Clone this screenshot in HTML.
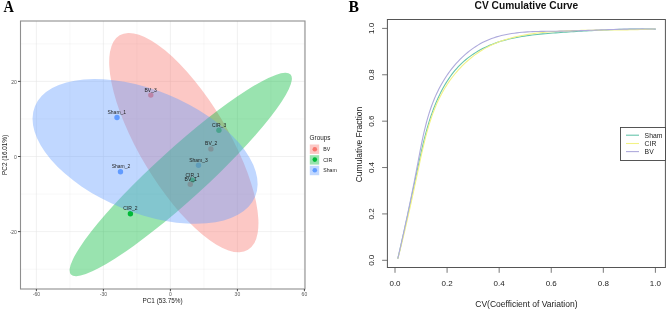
<!DOCTYPE html>
<html><head><meta charset="utf-8"><style>
html,body{margin:0;padding:0;background:#fff;}
svg{display:block;will-change:transform;}
text{font-family:"Liberation Sans",sans-serif;}
.serif{font-family:"Liberation Serif",serif;font-weight:bold;}
</style></head><body>
<svg width="667" height="310" viewBox="0 0 667 310">
<rect width="667" height="310" fill="#fff"/>
<text class="serif" x="3.5" y="12.25" font-size="16" fill="#000" textLength="10.4" lengthAdjust="spacingAndGlyphs">A</text>
<text class="serif" x="348.5" y="12.2" font-size="15.7" fill="#000">B</text>
<defs><clipPath id="pc"><rect x="20.5" y="21.0" width="284.5" height="268.0"/></clipPath></defs>
<g><line x1="36.40" y1="21.0" x2="36.40" y2="289.0" stroke="#E6E6E6" stroke-width="0.55"/><line x1="69.90" y1="21.0" x2="69.90" y2="289.0" stroke="#E6E6E6" stroke-width="0.3"/><line x1="103.40" y1="21.0" x2="103.40" y2="289.0" stroke="#E6E6E6" stroke-width="0.55"/><line x1="136.90" y1="21.0" x2="136.90" y2="289.0" stroke="#E6E6E6" stroke-width="0.3"/><line x1="170.40" y1="21.0" x2="170.40" y2="289.0" stroke="#E6E6E6" stroke-width="0.55"/><line x1="203.90" y1="21.0" x2="203.90" y2="289.0" stroke="#E6E6E6" stroke-width="0.3"/><line x1="237.40" y1="21.0" x2="237.40" y2="289.0" stroke="#E6E6E6" stroke-width="0.55"/><line x1="270.90" y1="21.0" x2="270.90" y2="289.0" stroke="#E6E6E6" stroke-width="0.3"/><line x1="304.40" y1="21.0" x2="304.40" y2="289.0" stroke="#E6E6E6" stroke-width="0.55"/><line x1="20.5" y1="269.15" x2="305.0" y2="269.15" stroke="#E6E6E6" stroke-width="0.3"/><line x1="20.5" y1="231.60" x2="305.0" y2="231.60" stroke="#E6E6E6" stroke-width="0.55"/><line x1="20.5" y1="194.05" x2="305.0" y2="194.05" stroke="#E6E6E6" stroke-width="0.3"/><line x1="20.5" y1="156.50" x2="305.0" y2="156.50" stroke="#E6E6E6" stroke-width="0.55"/><line x1="20.5" y1="118.95" x2="305.0" y2="118.95" stroke="#E6E6E6" stroke-width="0.3"/><line x1="20.5" y1="81.40" x2="305.0" y2="81.40" stroke="#E6E6E6" stroke-width="0.55"/><line x1="20.5" y1="43.85" x2="305.0" y2="43.85" stroke="#E6E6E6" stroke-width="0.3"/></g>
<g clip-path="url(#pc)">
<circle cx="150.8" cy="95.1" r="2.7" fill="#F8766D"/><circle cx="117.0" cy="117.5" r="2.7" fill="#619CFF"/><circle cx="218.9" cy="130.3" r="2.7" fill="#00BA38"/><circle cx="210.9" cy="148.9" r="2.7" fill="#F8766D"/><circle cx="198.5" cy="165.3" r="2.7" fill="#619CFF"/><circle cx="192.5" cy="180.1" r="2.7" fill="#00BA38"/><circle cx="190.3" cy="184.2" r="2.7" fill="#F8766D"/><circle cx="120.5" cy="171.8" r="2.7" fill="#619CFF"/><circle cx="130.4" cy="213.7" r="2.7" fill="#00BA38"/>
<ellipse cx="183.81" cy="142.57" rx="125.01" ry="44.35" transform="rotate(59.10 183.81 142.57)" fill="#F8766D" fill-opacity="0.4"/>
<ellipse cx="180.75" cy="174.46" rx="148.52" ry="25.42" transform="rotate(-42.31 180.75 174.46)" fill="#00BA38" fill-opacity="0.4"/>
<ellipse cx="145.08" cy="151.41" rx="119.01" ry="61.15" transform="rotate(22.31 145.08 151.41)" fill="#619CFF" fill-opacity="0.4"/>
</g>
<g font-size="5.0" fill="#222"><text x="150.6" y="91.6" text-anchor="middle">BV_3</text><text x="116.8" y="114.1" text-anchor="middle">Sham_1</text><text x="219.1" y="127.3" text-anchor="middle">CIR_3</text><text x="211.2" y="145.0" text-anchor="middle">BV_2</text><text x="198.5" y="162.4" text-anchor="middle">Sham_3</text><text x="192.5" y="176.6" text-anchor="middle">CIR_1</text><text x="190.7" y="180.5" text-anchor="middle">BV_1</text><text x="121.0" y="168.0" text-anchor="middle">Sham_2</text><text x="130.4" y="209.9" text-anchor="middle">CIR_2</text></g>
<rect x="20.5" y="21.0" width="284.5" height="268.0" fill="none" stroke="#8f8f8f" stroke-width="1.1"/>
<g font-size="5.0" fill="#555"><line x1="36.40" y1="289.0" x2="36.40" y2="291.2" stroke="#333" stroke-width="0.9"/><text x="36.40" y="295.5" text-anchor="middle">-60</text><line x1="103.40" y1="289.0" x2="103.40" y2="291.2" stroke="#333" stroke-width="0.9"/><text x="103.40" y="295.5" text-anchor="middle">-30</text><line x1="170.40" y1="289.0" x2="170.40" y2="291.2" stroke="#333" stroke-width="0.9"/><text x="170.40" y="295.5" text-anchor="middle">0</text><line x1="237.40" y1="289.0" x2="237.40" y2="291.2" stroke="#333" stroke-width="0.9"/><text x="237.40" y="295.5" text-anchor="middle">30</text><line x1="304.40" y1="289.0" x2="304.40" y2="291.2" stroke="#333" stroke-width="0.9"/><text x="304.40" y="295.5" text-anchor="middle">60</text><line x1="18.0" y1="231.60" x2="20.5" y2="231.60" stroke="#333" stroke-width="0.9"/><text x="16.9" y="233.70" text-anchor="end">-20</text><line x1="18.0" y1="156.50" x2="20.5" y2="156.50" stroke="#333" stroke-width="0.9"/><text x="16.9" y="158.60" text-anchor="end">0</text><line x1="18.0" y1="81.40" x2="20.5" y2="81.40" stroke="#333" stroke-width="0.9"/><text x="16.9" y="83.50" text-anchor="end">20</text></g>
<text x="162.5" y="303.2" text-anchor="middle" font-size="6.4" fill="#222">PC1 (53.75%)</text>
<text x="0" y="0" text-anchor="middle" font-size="6.4" fill="#222" transform="translate(7.3 154.9) rotate(-90)">PC2 (16.01%)</text>
<!-- legend A -->
<text x="309.6" y="140.0" font-size="6.4" fill="#222">Groups</text>
<rect x="309.8" y="144.5" width="9.4" height="9.4" fill="#F8766D" fill-opacity="0.4"/>
<rect x="309.8" y="155.2" width="9.4" height="9.4" fill="#00BA38" fill-opacity="0.4"/>
<rect x="309.8" y="165.8" width="9.4" height="9.4" fill="#619CFF" fill-opacity="0.4"/>
<circle cx="314.8" cy="149.3" r="2.3" fill="#F8766D"/>
<circle cx="314.8" cy="159.6" r="2.3" fill="#00BA38"/>
<circle cx="314.8" cy="170.3" r="2.3" fill="#619CFF"/>
<g font-size="5.2" fill="#222">
<text x="323.2" y="151.2">BV</text>
<text x="323.2" y="161.7">CIR</text>
<text x="323.2" y="172.3">Sham</text>
</g>
<!-- panel B -->
<text x="526.4" y="9.2" text-anchor="middle" font-size="10.2" font-weight="bold" fill="#111">CV Cumulative Curve</text>
<polyline points="397.79,258.70 398.39,256.15 398.99,253.61 399.59,251.07 400.17,248.54 400.76,246.01 401.34,243.48 401.91,240.96 402.49,238.44 403.05,235.92 403.62,233.41 404.18,230.90 404.74,228.39 405.29,225.88 405.84,223.38 406.39,220.88 406.94,218.38 407.49,215.88 408.03,213.38 408.57,210.88 409.11,208.38 409.65,205.89 410.18,203.39 410.72,200.89 411.25,198.39 411.79,195.90 412.32,193.40 412.86,190.89 413.39,188.39 413.92,185.89 414.46,183.38 414.99,180.88 415.53,178.37 416.07,175.85 416.60,173.34 417.14,170.82 417.68,168.30 418.23,165.77 418.77,163.24 419.32,160.71 419.87,158.18 420.43,155.64 420.99,153.11 421.56,150.57 422.14,148.03 422.74,145.50 423.34,142.97 423.96,140.44 424.59,137.92 425.24,135.40 425.90,132.88 426.59,130.38 427.29,127.88 428.01,125.39 428.76,122.91 429.53,120.43 430.32,117.97 431.14,115.52 431.99,113.08 432.87,110.66 433.77,108.25 434.71,105.85 435.68,103.47 436.68,101.11 437.72,98.76 438.79,96.43 439.91,94.12 441.06,91.83 442.25,89.56 443.48,87.31 444.76,85.09 446.07,82.89 447.44,80.73 448.85,78.59 450.30,76.50 451.81,74.44 453.36,72.43 454.97,70.46 456.62,68.54 458.33,66.67 460.10,64.85 461.91,63.09 463.79,61.39 465.71,59.74 467.68,58.15 469.69,56.61 471.75,55.14 473.85,53.72 475.99,52.35 478.17,51.05 480.39,49.80 482.63,48.60 484.91,47.47 487.22,46.39 489.55,45.37 491.91,44.41 494.30,43.50 496.71,42.64 499.13,41.83 501.58,41.07 504.05,40.36 506.54,39.69 509.05,39.06 511.57,38.48 514.10,37.93 516.65,37.42 519.21,36.95 521.78,36.50 524.37,36.09 526.96,35.71 529.55,35.35 532.16,35.02 534.77,34.72 537.38,34.43 540.00,34.16 542.61,33.91 545.23,33.68 547.85,33.46 550.46,33.25 553.07,33.06 555.68,32.87 558.28,32.68 560.88,32.50 563.46,32.32 566.04,32.15 568.61,31.98 571.18,31.81 573.74,31.64 576.29,31.48 578.84,31.32 581.39,31.17 583.93,31.02 586.47,30.87 589.01,30.73 591.54,30.59 594.08,30.45 596.61,30.33 599.14,30.20 601.67,30.08 604.20,29.97 606.73,29.86 609.27,29.76 611.80,29.66 614.34,29.57 616.88,29.49 619.43,29.41 621.98,29.34 624.53,29.27 627.09,29.22 629.65,29.16 632.22,29.12 634.80,29.08 637.39,29.06 639.98,29.03 642.58,29.02 645.19,29.02 647.80,29.02 650.43,29.03 653.07,29.05 655.72,29.08" fill="none" stroke="#66C4AB" stroke-width="1.1"/>
<polyline points="397.86,258.69 398.52,256.16 399.16,253.64 399.80,251.12 400.43,248.61 401.05,246.10 401.67,243.60 402.28,241.10 402.88,238.60 403.48,236.10 404.07,233.61 404.66,231.12 405.24,228.63 405.82,226.14 406.40,223.66 406.96,221.17 407.53,218.69 408.09,216.20 408.65,213.72 409.20,211.24 409.76,208.76 410.31,206.28 410.85,203.79 411.40,201.31 411.94,198.82 412.48,196.34 413.02,193.85 413.56,191.36 414.09,188.87 414.63,186.37 415.17,183.88 415.70,181.38 416.24,178.88 416.78,176.37 417.31,173.86 417.85,171.35 418.39,168.83 418.93,166.31 419.47,163.78 420.02,161.25 420.57,158.71 421.12,156.18 421.68,153.64 422.25,151.10 422.83,148.57 423.42,146.03 424.03,143.50 424.65,140.97 425.28,138.45 425.93,135.93 426.60,133.42 427.29,130.91 428.00,128.42 428.73,125.93 429.49,123.46 430.27,120.99 431.08,118.54 431.92,116.11 432.79,113.68 433.69,111.28 434.62,108.89 435.59,106.52 436.59,104.16 437.63,101.83 438.71,99.51 439.83,97.22 441.00,94.95 442.20,92.71 443.45,90.49 444.74,88.29 446.09,86.12 447.47,83.98 448.90,81.87 450.38,79.79 451.89,77.74 453.45,75.73 455.06,73.75 456.70,71.80 458.38,69.90 460.11,68.03 461.87,66.20 463.68,64.41 465.52,62.67 467.40,60.97 469.32,59.32 471.27,57.71 473.26,56.15 475.29,54.64 477.35,53.18 479.44,51.77 481.57,50.42 483.74,49.12 485.93,47.87 488.16,46.69 490.41,45.56 492.70,44.49 495.02,43.47 497.36,42.50 499.73,41.59 502.12,40.73 504.54,39.92 506.98,39.15 509.44,38.43 511.92,37.75 514.41,37.12 516.93,36.52 519.46,35.97 522.00,35.45 524.56,34.97 527.13,34.52 529.71,34.11 532.30,33.73 534.89,33.37 537.50,33.05 540.10,32.75 542.72,32.48 545.33,32.23 547.95,32.00 550.56,31.79 553.18,31.60 555.79,31.43 558.40,31.27 561.00,31.13 563.60,30.99 566.19,30.88 568.77,30.77 571.35,30.67 573.93,30.58 576.50,30.51 579.07,30.44 581.63,30.38 584.19,30.32 586.75,30.27 589.30,30.23 591.85,30.19 594.40,30.16 596.94,30.13 599.49,30.11 602.03,30.08 604.57,30.06 607.11,30.04 609.65,30.02 612.19,30.00 614.73,29.98 617.27,29.95 619.81,29.93 622.35,29.90 624.90,29.86 627.44,29.83 629.98,29.78 632.53,29.74 635.08,29.68 637.63,29.62 640.19,29.55 642.75,29.47 645.31,29.38 647.88,29.29 650.45,29.18 653.02,29.06 655.60,28.93" fill="none" stroke="#F2F285" stroke-width="1.1"/>
<polyline points="397.79,258.67 398.38,256.10 398.97,253.53 399.55,250.97 400.13,248.41 400.71,245.85 401.28,243.29 401.85,240.74 402.42,238.19 402.98,235.64 403.54,233.09 404.10,230.55 404.65,228.00 405.20,225.46 405.75,222.92 406.30,220.38 406.84,217.84 407.38,215.30 407.92,212.76 408.45,210.23 408.98,207.69 409.51,205.15 410.04,202.61 410.56,200.07 411.08,197.53 411.60,194.99 412.11,192.44 412.62,189.90 413.13,187.35 413.64,184.80 414.14,182.25 414.64,179.70 415.14,177.15 415.64,174.59 416.13,172.03 416.62,169.46 417.11,166.89 417.59,164.32 418.08,161.75 418.56,159.17 419.04,156.59 419.53,154.01 420.02,151.43 420.52,148.85 421.03,146.27 421.55,143.69 422.08,141.12 422.62,138.55 423.18,135.98 423.75,133.42 424.34,130.86 424.95,128.31 425.59,125.77 426.24,123.24 426.93,120.71 427.64,118.20 428.38,115.70 429.14,113.20 429.94,110.72 430.78,108.25 431.65,105.80 432.55,103.36 433.50,100.93 434.48,98.53 435.51,96.13 436.58,93.76 437.70,91.40 438.86,89.07 440.07,86.75 441.33,84.45 442.64,82.18 443.99,79.94 445.39,77.73 446.84,75.54 448.33,73.39 449.86,71.27 451.44,69.20 453.07,67.15 454.73,65.15 456.44,63.20 458.19,61.29 459.99,59.42 461.82,57.61 463.70,55.84 465.62,54.13 467.58,52.48 469.58,50.88 471.61,49.34 473.69,47.86 475.81,46.45 477.96,45.10 480.15,43.82 482.38,42.61 484.64,41.47 486.94,40.41 489.28,39.42 491.65,38.51 494.05,37.67 496.49,36.90 498.95,36.19 501.45,35.55 503.96,34.96 506.51,34.44 509.07,33.97 511.66,33.55 514.26,33.17 516.88,32.84 519.52,32.56 522.17,32.31 524.83,32.09 527.51,31.91 530.19,31.76 532.87,31.64 535.57,31.53 538.26,31.45 540.96,31.39 543.66,31.33 546.35,31.29 549.04,31.26 551.73,31.23 554.41,31.21 557.07,31.18 559.73,31.15 562.38,31.11 565.01,31.06 567.63,31.00 570.24,30.94 572.85,30.87 575.44,30.80 578.02,30.72 580.60,30.64 583.16,30.55 585.73,30.46 588.28,30.37 590.84,30.27 593.39,30.18 595.94,30.08 598.48,29.98 601.03,29.89 603.57,29.79 606.12,29.70 608.66,29.61 611.21,29.52 613.77,29.44 616.32,29.36 618.89,29.28 621.45,29.21 624.03,29.15 626.61,29.09 629.20,29.04 631.80,29.00 634.41,28.97 637.03,28.94 639.66,28.93 642.30,28.92 644.96,28.93 647.63,28.95 650.32,28.98 653.02,29.02 655.73,29.08" fill="none" stroke="#AEAADC" stroke-width="1.1"/>
<rect x="387.4" y="19.5" width="278.0" height="248.0" fill="none" stroke="#555" stroke-width="1"/>
<g font-size="8" fill="#222"><line x1="395.00" y1="267.5" x2="395.00" y2="272.8" stroke="#555" stroke-width="0.8"/><text x="395.00" y="286.4" text-anchor="middle">0.0</text><line x1="447.08" y1="267.5" x2="447.08" y2="272.8" stroke="#555" stroke-width="0.8"/><text x="447.08" y="286.4" text-anchor="middle">0.2</text><line x1="499.16" y1="267.5" x2="499.16" y2="272.8" stroke="#555" stroke-width="0.8"/><text x="499.16" y="286.4" text-anchor="middle">0.4</text><line x1="551.24" y1="267.5" x2="551.24" y2="272.8" stroke="#555" stroke-width="0.8"/><text x="551.24" y="286.4" text-anchor="middle">0.6</text><line x1="603.32" y1="267.5" x2="603.32" y2="272.8" stroke="#555" stroke-width="0.8"/><text x="603.32" y="286.4" text-anchor="middle">0.8</text><line x1="655.40" y1="267.5" x2="655.40" y2="272.8" stroke="#555" stroke-width="0.8"/><text x="655.40" y="286.4" text-anchor="middle">1.0</text><line x1="382.09999999999997" y1="260.30" x2="387.4" y2="260.30" stroke="#555" stroke-width="0.8"/><text x="374.3" y="260.30" text-anchor="middle" transform="rotate(-90 374.3 260.30)">0.0</text><line x1="382.09999999999997" y1="213.92" x2="387.4" y2="213.92" stroke="#555" stroke-width="0.8"/><text x="374.3" y="213.92" text-anchor="middle" transform="rotate(-90 374.3 213.92)">0.2</text><line x1="382.09999999999997" y1="167.54" x2="387.4" y2="167.54" stroke="#555" stroke-width="0.8"/><text x="374.3" y="167.54" text-anchor="middle" transform="rotate(-90 374.3 167.54)">0.4</text><line x1="382.09999999999997" y1="121.16" x2="387.4" y2="121.16" stroke="#555" stroke-width="0.8"/><text x="374.3" y="121.16" text-anchor="middle" transform="rotate(-90 374.3 121.16)">0.6</text><line x1="382.09999999999997" y1="74.78" x2="387.4" y2="74.78" stroke="#555" stroke-width="0.8"/><text x="374.3" y="74.78" text-anchor="middle" transform="rotate(-90 374.3 74.78)">0.8</text><line x1="382.09999999999997" y1="28.40" x2="387.4" y2="28.40" stroke="#555" stroke-width="0.8"/><text x="374.3" y="28.40" text-anchor="middle" transform="rotate(-90 374.3 28.40)">1.0</text></g>
<text x="526.4" y="306.5" text-anchor="middle" font-size="8.5" fill="#222">CV(Coefficient of Variation)</text>
<text x="0" y="0" text-anchor="middle" font-size="8.5" fill="#222" transform="translate(361.5 144.5) rotate(-90)">Cumulative Fraction</text>
<!-- legend B -->
<rect x="620.5" y="127.5" width="45" height="33" fill="#fff" stroke="#444" stroke-width="0.9"/>
<line x1="626" y1="135.2" x2="639" y2="135.2" stroke="#66C4AB" stroke-width="1.1"/>
<line x1="626" y1="143.5" x2="639" y2="143.5" stroke="#F2F285" stroke-width="1.1"/>
<line x1="626" y1="151.6" x2="639" y2="151.6" stroke="#AEAADC" stroke-width="1.1"/>
<g font-size="6.8" fill="#222">
<text x="644.6" y="138.1">Sham</text>
<text x="644.6" y="146.2">CIR</text>
<text x="644.6" y="154.4">BV</text>
</g>
</svg>
</body></html>
